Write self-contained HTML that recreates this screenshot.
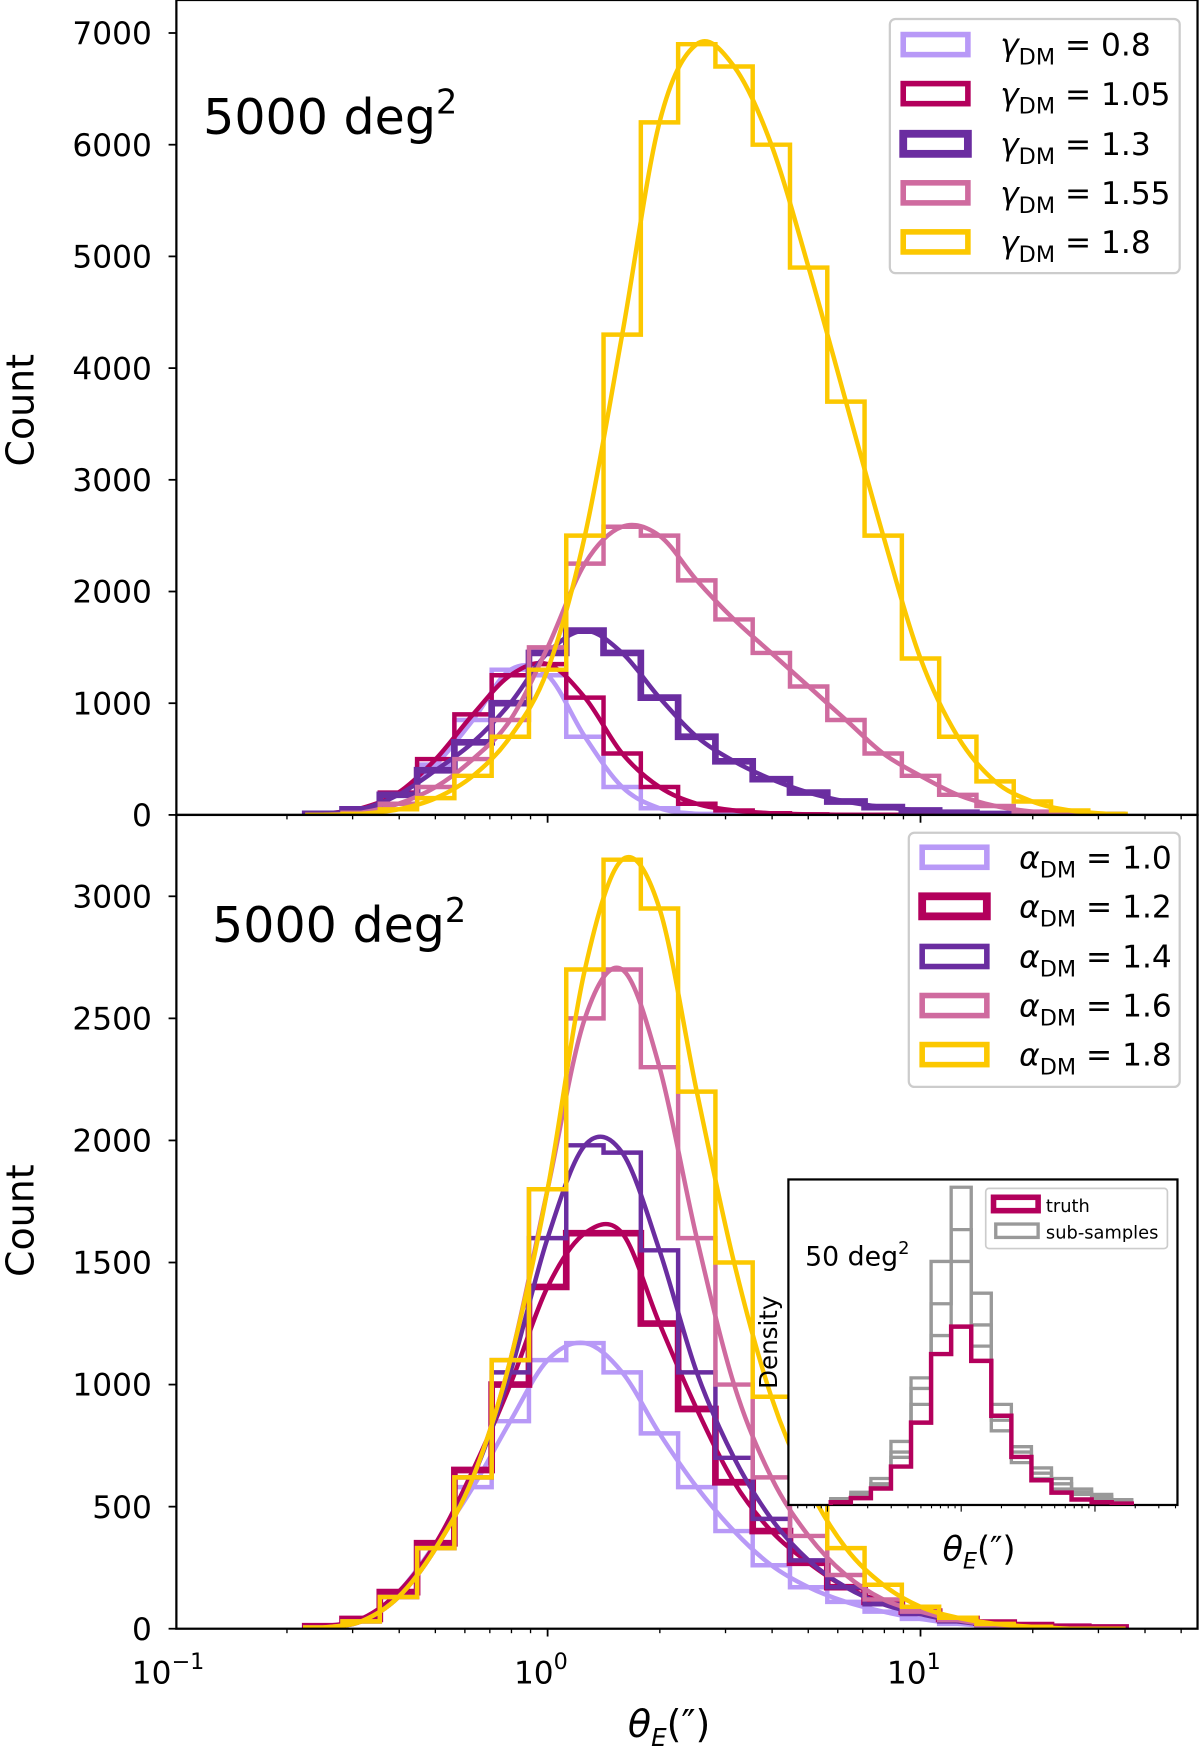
<!DOCTYPE html>
<html><head><meta charset="utf-8"><style>
html,body{margin:0;padding:0;background:#fff}
svg{display:block}
text{font-family:"DejaVu Sans","Liberation Sans",sans-serif;fill:#000}
</style></head><body>
<svg id="chart" width="1200" height="1748" viewBox="0 0 1076 1568" xmlns="http://www.w3.org/2000/svg">
<rect x="0" y="0" width="1076" height="1568" fill="#fff"/>
<g id="top"></g>
<g id="bot"></g>
<g id="inset"></g>
<g id="axes"></g>
</svg>
<script>
// bin centers in log10(theta_E)
const binLogs = [-0.6,-0.5,-0.4,-0.3,-0.2,-0.1,0.0,0.1,0.2,0.3,0.4,0.5,0.6,0.7,0.8,0.9,1.0,1.1,1.2,1.3,1.4,1.5];
// top panel (gamma_DM)
const gammaLabels = ["0.8","1.05","1.3","1.55","1.8"];
const g08  = [5,50,200,450,850,1300,1250,700,250,60,10,0,0,0,0,0,0,0,0,0,0,0];
const g105 = [10,60,200,500,900,1250,1350,1050,550,250,100,40,15,5,0,0,0,0,0,0,0,0];
const g13  = [10,50,180,400,650,1000,1450,1650,1450,1050,700,480,320,200,120,70,40,20,8,0,0,0];
const g155 = [0,20,100,250,500,850,1500,2250,2580,2500,2100,1750,1450,1150,850,550,350,180,80,30,10,0];
const g18  = [0,10,50,150,350,700,1300,2500,4300,6200,6900,6700,6000,4900,3700,2500,1400,700,300,120,40,10];
// bottom panel (alpha_DM)
const alphaLabels = ["1.0","1.2","1.4","1.6","1.8"];
const a10 = [5,30,150,350,580,850,1100,1170,1050,800,580,400,260,170,110,70,40,20,10,5,0,0];
const a12 = [10,40,150,350,650,1000,1400,1620,1620,1250,900,600,400,270,170,110,70,40,25,15,8,5];
const a14 = [5,30,130,330,620,1050,1600,1980,1950,1550,1050,700,450,280,170,100,60,30,15,5,0,0];
const a16 = [5,30,130,330,620,1100,1800,2500,2700,2300,1600,1000,620,380,220,120,70,35,15,5,0,0];
const a18 = [5,30,130,330,620,1100,1800,2700,3150,2950,2200,1500,950,580,330,180,90,45,20,8,0,0];
// inset
const insetBins = [-0.9,-0.75,-0.6,-0.45,-0.3,-0.15,0.0,0.15,0.3,0.45,0.6,0.75,0.9,1.05,1.2];
const insetTruth = [2,5,12,28,60,110,130,105,65,35,18,9,4,2,1];
const insetSub1 = [5,8,20,50,95,190,260,170,80,55,30,25,12,8,4];
const insetSub2 = [3,10,25,45,120,230,230,150,95,40,35,15,15,6,3];
const insetSub3 = [6,12,18,60,110,160,300,200,70,50,25,20,10,10,5];
const topYTicks = [0,1000,2000,3000,4000,5000,6000,7000];
const botYTicks = [0,500,1000,1500,2000,2500,3000];

const colors = ["#b899f7","#b3005c","#6a2da0","#cf6b9f","#fcc800"];
const NS="http://www.w3.org/2000/svg";
const ch=document.getElementById("chart");
function mk(tag,attrs,parent){const e=document.createElementNS(NS,tag);for(const k in attrs)e.setAttribute(k,attrs[k]);parent.appendChild(e);return e;}

const X0=158,X1=1074;
const xs = l => 491 + l*334.5;
const ysTop = v => 731 - v*0.1002;
const ysBot = v => 1461 - v*0.219;
const BW=0.1;

function stepPath(vals,xf,yf,bw,centers){
  let d="M"+xf(centers[0]-bw/2)+","+yf(0);
  vals.forEach((v,i)=>{const a=xf(centers[i]-bw/2),b=xf(centers[i]+bw/2);d+=" L"+a+","+yf(v)+" L"+b+","+yf(v);});
  d+=" L"+xf(centers[centers.length-1]+bw/2)+","+yf(0);return d;
}
function smoothPath(vals,xf,yf,centers){
  const p=vals.map((v,i)=>[xf(centers[i]),yf(v)]);
  let d="M"+p[0][0]+","+p[0][1];
  for(let i=0;i<p.length-1;i++){
    const p0=p[i-1]||p[i],p1=p[i],p2=p[i+1],p3=p[i+2]||p2;
    const c1=[p1[0]+(p2[0]-p0[0])/6,p1[1]+(p2[1]-p0[1])/6];
    const c2=[p2[0]-(p3[0]-p1[0])/6,p2[1]-(p3[1]-p1[1])/6];
    d+=` C${c1[0]},${c1[1]} ${c2[0]},${c2[1]} ${p2[0]},${p2[1]}`;
  }
  return d;
}
function makeClip(id,y0,y1){const cp=mk("clipPath",{id:id},ch);mk("rect",{x:X0,y:y0,width:X1-X0,height:y1-y0},cp);}
makeClip("ct",0,731);makeClip("cb",731,1461);

function drawPanel(g,series,yf,clipId,widths){
  const cg=mk("g",{"clip-path":"url(#"+clipId+")"},g);
  series.forEach((vals,i)=>{
    const h=mk("path",{d:stepPath(vals,xs,yf,BW,binLogs),fill:"none",stroke:colors[i],"stroke-width":widths[i]},cg);
    
    
    const c=mk("path",{d:smoothPath(vals,xs,yf,binLogs),fill:"none",stroke:colors[i],"stroke-width":4},cg);
    
    
  });
}
const gTop=document.getElementById("top"),gBot=document.getElementById("bot"),gAxes=document.getElementById("axes");
drawPanel(gTop,[g08,g105,g13,g155,g18],ysTop,"ct",[4,4,6,4,4]);
drawPanel(gBot,[a10,a12,a14,a16,a18],ysBot,"cb",[4,6,4,4,4]);

[[0,731],[731,1461]].forEach(([a,b],k)=>{
  const r=mk("rect",{x:X0,y:a,width:X1-X0,height:b-a,fill:"none",stroke:"#000","stroke-width":2},gAxes);
  
  
});
function yTicks(ticks,yf){
  ticks.forEach(t=>{
    mk("line",{x1:X0-7,x2:X0,y1:yf(t),y2:yf(t),stroke:"#000","stroke-width":1.6},gAxes);
    const tx=mk("text",{x:X0-22,y:yf(t)+10,"font-size":28,"text-anchor":"end"},gAxes);
    tx.textContent=t;
    
    
  });
}
yTicks(topYTicks,ysTop);yTicks(botYTicks,ysBot);
function xTicks(y){
  for(let d=-1;d<=1;d++){for(let m=1;m<10;m++){
    const l=d+Math.log10(m);const x=xs(l);if(x<X0-1||x>X1)continue;
    mk("line",{x1:x,x2:x,y1:y,y2:y+(m==1?7:4),stroke:"#000","stroke-width":m==1?1.6:1.2},gAxes);
  }}
}
xTicks(731);xTicks(1461);
[[-1,"−1"],[0,"0"],[1,"1"]].forEach(([d,s])=>{
  const t=mk("text",{x:xs(d)-6,y:1510,"font-size":28,"text-anchor":"middle"},gAxes);
  t.innerHTML="10<tspan dy='-13' font-size='20'>"+s+"</tspan>";
  
  
});

function T(x,y,s,html,attrs,name){const t=document.createElementNS(NS,"text");t.setAttribute("x",x);t.setAttribute("y",y);t.setAttribute("font-size",s);for(const k in (attrs||{}))t.setAttribute(k,attrs[k]);t.innerHTML=html;


ch.appendChild(t);return t;}
T(600,1558,34,"<tspan font-style='italic'>θ</tspan><tspan font-style='italic' font-size='22' dy='8'>E</tspan><tspan dy='-8'>(″)</tspan>",{"text-anchor":"middle"},"x-axis-title");
T(30,368,34,"Count",{"text-anchor":"middle",transform:"rotate(-90 30 368)"},"top-y-axis-title");
T(30,1095,34,"Count",{"text-anchor":"middle",transform:"rotate(-90 30 1095)"},"bottom-y-axis-title");
T(182,120,44,"5000 deg<tspan dy='-18' font-size='30'>2</tspan>",{},"top-survey-area-label");
T(190,845,44,"5000 deg<tspan dy='-18' font-size='30'>2</tspan>",{},"bottom-survey-area-label");
function legend(x,y,w,h,px,ys,sym,labels,widths,name){
  const g=mk("g",{},ch);
  
  
  mk("rect",{x:x,y:y,width:w,height:h,rx:5,fill:"#fff","fill-opacity":0.85,stroke:"#ccc","stroke-width":2},g);
  labels.forEach((l,i)=>{
    const e=mk("g",{},g);
    
    
    mk("rect",{x:px,y:ys[i]-9,width:58,height:18,fill:"none",stroke:colors[i],"stroke-width":widths[i]},e);
    const t=mk("text",{x:px+87,y:ys[i]+10,"font-size":28},e);
    t.innerHTML="<tspan font-style='italic'>"+sym+"</tspan><tspan font-size='20' dy='8'>DM</tspan><tspan dy='-8'> = "+l+"</tspan>";
  });
}
legend(798,17,260,228,810,[40,84,129,173,217],"γ",gammaLabels,[5,5,7,5,5],"top-legend");
legend(815,747,243,228,827,[769,813,858,902,946],"α",alphaLabels,[5,7,5,5,5],"bottom-legend");

// inset
const ig=document.getElementById("inset");
ch.appendChild(ig);
const IX0=707,IX1=1056,IY0=1058,IY1=1350;
mk("rect",{x:IX0,y:IY0,width:IX1-IX0,height:IY1-IY0,fill:"#fff",stroke:"#000","stroke-width":2},ig);
const ix=l=>862+l*120;
const iy=v=>IY1-v*0.95;
const cpi=mk("clipPath",{id:"ci"},ch);mk("rect",{x:IX0,y:IY0,width:IX1-IX0,height:IY1-IY0},cpi);
const icg=mk("g",{"clip-path":"url(#ci)"},ig);
[insetSub1,insetSub2,insetSub3].forEach(s=>{
  const p=mk("path",{d:stepPath(s,ix,iy,0.15,insetBins),fill:"none",stroke:"#999","stroke-width":3},icg);
  
  
});
const th=mk("path",{d:stepPath(insetTruth,ix,v=>IY1-v*(IY1-1190)/130,0.15,insetBins),fill:"none",stroke:"#b3005c","stroke-width":4},icg);


for(let d=-2;d<=1;d++)for(let m=1;m<10;m++){const x=ix(d+Math.log10(m));if(x<IX0||x>IX1)continue;mk("line",{x1:x,x2:x,y1:IY1,y2:IY1+(m==1?6:3),stroke:"#000","stroke-width":1},ig);}
T(878,1400,30,"<tspan font-style='italic'>θ</tspan><tspan font-style='italic' font-size='20' dy='7'>E</tspan><tspan dy='-7'>(″)</tspan>",{"text-anchor":"middle"},"inset-x-axis-title");
T(697,1204,22,"Density",{"text-anchor":"middle",transform:"rotate(-90 697 1204)"},"inset-y-axis-title");
T(722,1135,24,"50 deg<tspan dy='-10' font-size='16'>2</tspan>",{},"inset-area-label");
const il=mk("g",{},ch);


mk("rect",{x:884,y:1066,width:163,height:54,rx:3,fill:"#fff",stroke:"#ccc","stroke-width":1.5},il);
mk("rect",{x:891,y:1074,width:40,height:12,fill:"none",stroke:"#b3005c","stroke-width":5},il);
mk("rect",{x:893,y:1098,width:38,height:12,fill:"none",stroke:"#999","stroke-width":3},il);
const t1=mk("text",{x:938,y:1087,"font-size":16},il);t1.textContent="truth";
const t2=mk("text",{x:938,y:1111,"font-size":16},il);t2.textContent="sub-samples";
</script>
</body></html>
